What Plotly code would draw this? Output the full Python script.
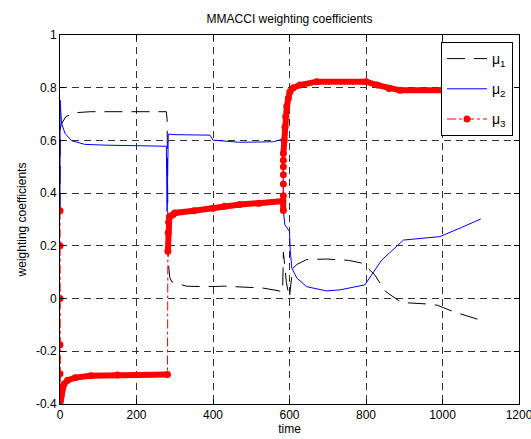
import plotly.graph_objects as go

# ---- data ----
t_mu1 = [0, 0.5, 3, 8, 15, 24, 39, 80, 140, 278, 280, 281, 283, 287, 292, 330, 380, 430, 480, 530, 570, 582,
         584, 587, 592, 596, 600, 604, 609, 620, 645, 697, 732, 754, 788, 805, 823, 849, 858, 893, 954, 986,
         1029, 1073, 1100]
mu1 = [0.333, 0.64, 0.66, 0.675, 0.69, 0.696, 0.705, 0.709, 0.709, 0.709, 0.68, 0.45, 0.14, 0.08, 0.064,
       0.047, 0.045, 0.047, 0.043, 0.04, 0.03, 0.025,
       0.176, 0.12, 0.06, 0.03, 0.005, 0.06, 0.115, 0.13, 0.148, 0.15, 0.146, 0.145, 0.135, 0.115, 0.09,
       0.03, 0.02, -0.015, -0.02, -0.025, -0.05, -0.07, -0.082]

t_mu2 = [0, 0.3, 4, 13, 30, 65, 120, 200, 278, 280, 283, 300, 350, 392, 400, 470, 558, 580, 583, 584,
         588, 596, 600, 602, 606, 619, 645, 697, 732, 797, 841, 898, 993, 1050, 1100]
mu2 = [0.333, 0.753, 0.666, 0.627, 0.599, 0.585, 0.582, 0.58, 0.578, 0.33, 0.624, 0.622, 0.621, 0.62,
       0.601, 0.593, 0.595, 0.604, 0.6, 0.33, 0.28, 0.26, 0.254, 0.18, 0.116, 0.078, 0.045, 0.029, 0.033,
       0.052, 0.146, 0.222, 0.235, 0.27, 0.302]

t_mu3 = [0, 0, 0, 0, 0, 1, 3, 6, 10, 20, 40, 80, 150, 281, 282, 283, 284, 286, 295, 300, 350, 400, 430,
         470, 520, 583, 584, 584, 584, 584, 584, 584, 584, 586, 588, 590, 593, 597, 601, 610, 627, 671,
         800, 830, 860, 889, 1000, 1100]
mu3 = [0.333, 0.2, 0.0, -0.175, -0.285, -0.39, -0.37, -0.34, -0.325, -0.31, -0.3, -0.293, -0.29, -0.288,
       0.18, 0.25, 0.29, 0.31, 0.318, 0.325, 0.333, 0.343, 0.35, 0.357, 0.362, 0.37,
       0.334, 0.39, 0.435, 0.47, 0.5, 0.525, 0.55, 0.6, 0.65, 0.69, 0.73, 0.76, 0.785, 0.80, 0.81, 0.823,
       0.823, 0.81, 0.797, 0.79, 0.79, 0.785]

y_ticks = [-0.4, -0.2, 0, 0.2, 0.4, 0.6, 0.8, 1]
y_tick_labels = ["-0.4", "-0.2", "0", "0.2", "0.4", "0.6", "0.8", "1"]
x_ticks = [0, 200, 400, 600, 800, 1000, 1200]


def band(t, v):
    xs, ys = [t[0]], [v[0]]
    for i in range(1, len(t)):
        if t[i] == t[i - 1] or abs(v[i] - v[i - 1]) > 0.1:
            xs.append(None)
            ys.append(None)
        xs.append(t[i])
        ys.append(v[i])
    return xs, ys


FONT = "Arial, Liberation Sans, sans-serif"
fig = go.Figure()
fig.add_trace(go.Scatter(x=t_mu1, y=mu1, mode="lines", name="μ<sub>1</sub>", legendgroup="a",
                         line=dict(color="black", width=1, dash="18px,9px")))
fig.add_trace(go.Scatter(x=t_mu2, y=mu2, mode="lines", name="μ<sub>2</sub>", legendgroup="b",
                         line=dict(color="#0000ff", width=1)))
bx, by = band(t_mu3, mu3)
fig.add_trace(go.Scatter(x=bx, y=by, mode="lines", showlegend=False, hoverinfo="skip",
                         line=dict(color="#ff0000", width=6), connectgaps=False))
fig.add_trace(go.Scatter(x=t_mu3, y=mu3, mode="lines+markers", name="μ<sub>3</sub>", legendgroup="c",
                         line=dict(color="#ff0000", width=1, dash="dashdot"),
                         marker=dict(color="#ff0000", size=7)))

axis_common = dict(showline=True, linecolor="black", linewidth=1, mirror="ticks", ticks="inside",
                   ticklen=5, tickcolor="black", showgrid=True, gridcolor="#333333", gridwidth=1,
                   griddash="7px,5px", zeroline=False, ticklabeloverflow="allow",
                   tickfont=dict(family=FONT, size=12, color="black"))

fig.update_layout(
    width=531, height=439,
    margin=dict(l=60, r=12, t=35, b=35, autoexpand=False),
    paper_bgcolor="white", plot_bgcolor="white",
    font=dict(family=FONT, size=12, color="black"),
    title=dict(text="MMACCI weighting coefficients", x=0.5, xref="paper", xanchor="center",
               y=1 - 19 / 439, yanchor="middle", font=dict(family=FONT, size=12, color="black")),
    xaxis=dict(range=[0, 1200], tickvals=x_ticks, title=dict(text="time", standoff=3,
               font=dict(family=FONT, size=12)), **axis_common),
    yaxis=dict(range=[-0.4, 1], tickvals=y_ticks, ticktext=y_tick_labels,
               title=dict(text="weighting coefficients", standoff=6, font=dict(family=FONT, size=12)),
               **axis_common),
    legend=dict(x=(513 - 60) / 459, y=(404 - 42) / 369, xref="paper", yref="paper",
                xanchor="right", yanchor="top", itemwidth=40,
                bgcolor="white", bordercolor="black", borderwidth=1, tracegroupgap=9,
                font=dict(family=FONT, size=14, color="black")),
    showlegend=True,
)

fig.write_html("out.html")
